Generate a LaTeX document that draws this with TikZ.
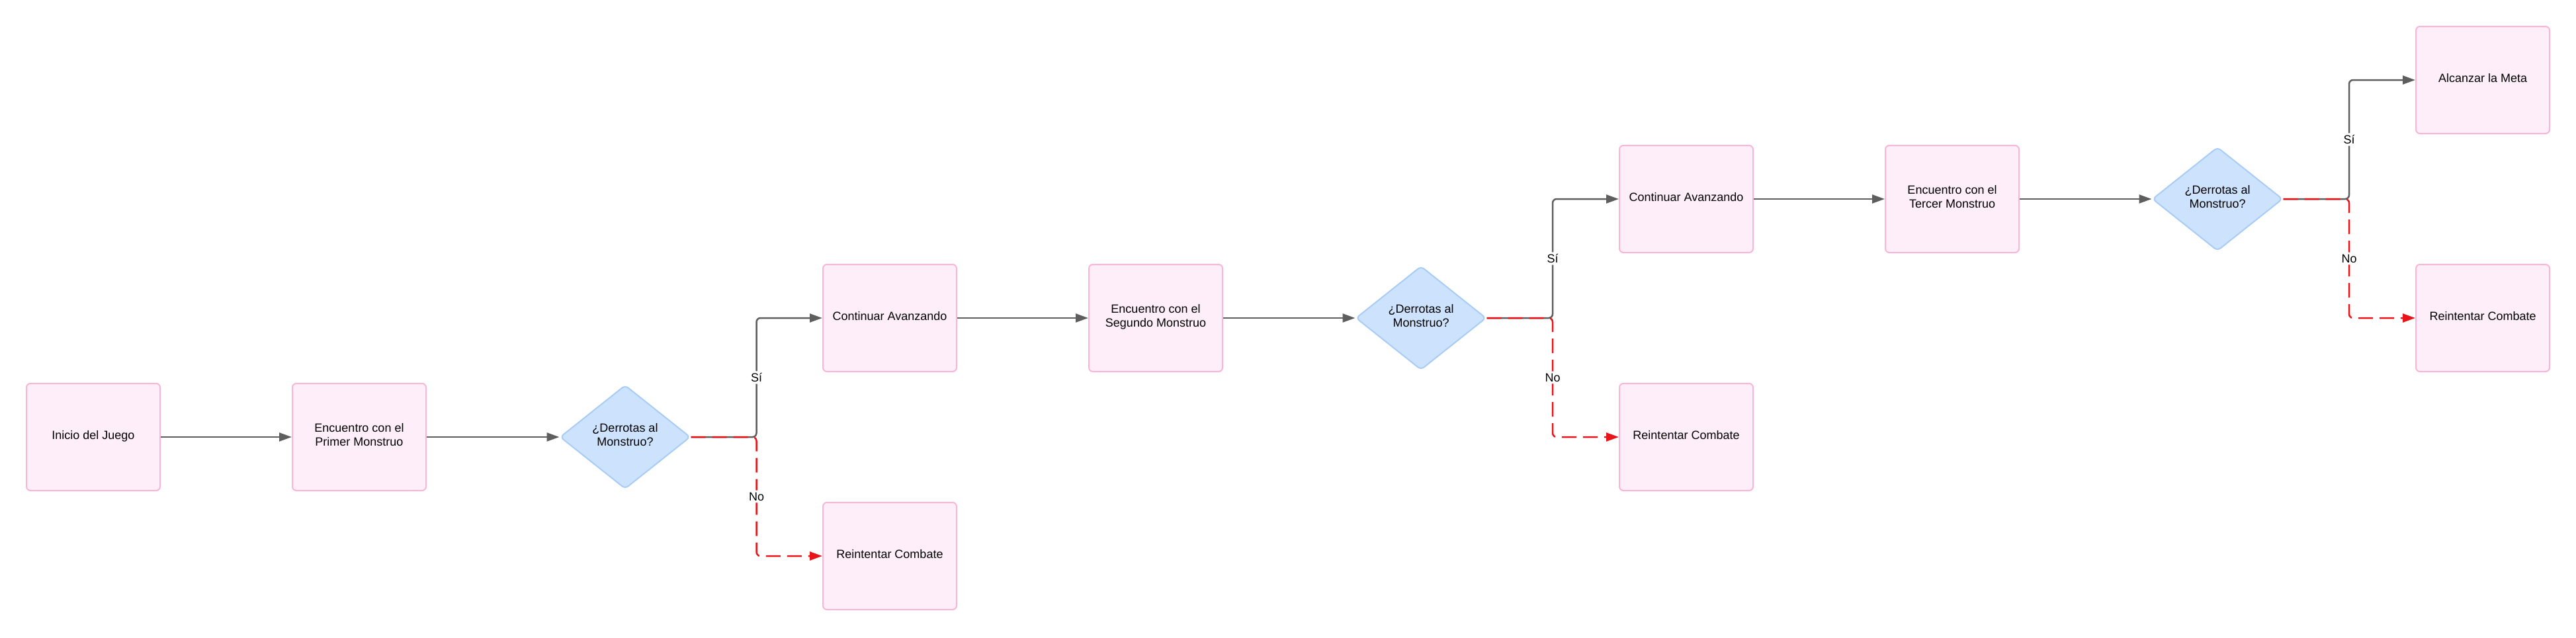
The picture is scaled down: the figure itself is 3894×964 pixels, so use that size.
\documentclass[tikz,border=0pt]{standalone}
\usepackage{fontspec}
\setmainfont{Liberation Sans}
\usetikzlibrary{shapes.geometric,arrows.meta}
\definecolor{boxfill}{HTML}{FEEEF9}
\definecolor{boxline}{HTML}{F9B6D6}
\definecolor{dfill}{HTML}{CCE2FD}
\definecolor{dline}{HTML}{A8CCF6}
\definecolor{arrgray}{HTML}{5E5E5E}
\definecolor{arrred}{HTML}{E8141A}
\tikzset{
  stepbox/.style={draw=boxline, fill=boxfill, line width=2pt, rounded corners=6pt,
    minimum width=202pt, minimum height=162pt, inner sep=0pt, align=center,
    font=\fontsize{18}{21.7}\selectfont, text=black,
    execute at end node={\rule[-7pt]{0pt}{7pt}}},
  decide/.style={diamond, draw=dline, fill=dfill, line width=2pt, rounded corners=6pt,
    minimum width=197pt, minimum height=157pt, aspect=1.25, inner sep=0pt, align=center,
    font=\fontsize{18}{21.7}\selectfont, text=black,
    execute at end node={\rule[-7pt]{0pt}{7pt}}},
  flow/.style={draw=arrgray, line width=2.5pt, -{Triangle[length=19pt,width=13pt]}},
  yes/.style={flow, rounded corners=6pt},
  no/.style={draw=arrred, line width=2.5pt, dash pattern=on 22pt off 10pt, rounded corners=6pt,
    -{Triangle[length=19pt,width=13pt]}},
  lbl/.style={fill=white, inner sep=3pt, font=\fontsize{18}{21.7}\selectfont, text=black}
}
\begin{document}
\begin{tikzpicture}[x=1pt,y=-1pt]
\useasboundingbox (0,0) rectangle (3894,964);
\node[stepbox] (inicio) at (141,661) {Inicio del Juego};
\node[stepbox] (enc1) at (543,661) {Encuentro con el\\Primer Monstruo};
\node[decide] (d1) at (945,661) {¿Derrotas al\\Monstruo?};
\node[stepbox] (cont1) at (1345,481) {Continuar Avanzando};
\node[stepbox] (reint1) at (1345,841) {Reintentar Combate};
\node[stepbox] (enc2) at (1747,481) {Encuentro con el\\Segundo Monstruo};
\node[decide] (d2) at (2148,481) {¿Derrotas al\\Monstruo?};
\node[stepbox] (cont2) at (2549,301) {Continuar Avanzando};
\node[stepbox] (reint2) at (2549,661) {Reintentar Combate};
\node[stepbox] (enc3) at (2951,301) {Encuentro con el\\Tercer Monstruo};
\node[decide] (d3) at (3352,301) {¿Derrotas al\\Monstruo?};
\node[stepbox] (alc) at (3753,121) {Alcanzar la Meta};
\node[stepbox] (reint3) at (3753,481) {Reintentar Combate};

\coordinate (b1) at (1143.5,0);
\coordinate (b2) at (2347,0);
\coordinate (b3) at (3551,0);

\draw[flow] (inicio) -- (enc1);
\draw[flow] (enc1) -- (d1);
\draw[flow] (cont1) -- (enc2);
\draw[flow] (enc2) -- (d2);
\draw[flow] (cont2) -- (enc3);
\draw[flow] (enc3) -- (d3);

\draw[yes] (d1.east) -- (d1.east -| b1) -- node[lbl]{Sí} (cont1.west -| b1) -- (cont1.west);
\draw[yes] (d2.east) -- (d2.east -| b2) -- node[lbl]{Sí} (cont2.west -| b2) -- (cont2.west);
\draw[yes] (d3.east) -- (d3.east -| b3) -- node[lbl]{Sí} (alc.west -| b3) -- (alc.west);

\draw[no] (d1.east) -- (d1.east -| b1) -- node[lbl]{No} (reint1.west -| b1) -- (reint1.west);
\draw[no] (d2.east) -- (d2.east -| b2) -- node[lbl]{No} (reint2.west -| b2) -- (reint2.west);
\draw[no] (d3.east) -- (d3.east -| b3) -- node[lbl]{No} (reint3.west -| b3) -- (reint3.west);
\end{tikzpicture}
\end{document}
